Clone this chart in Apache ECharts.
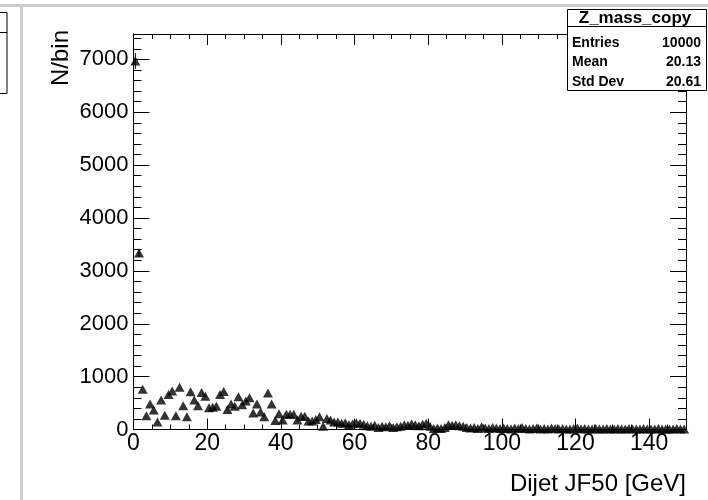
<!DOCTYPE html>
<html>
<head>
<meta charset="utf-8">
<script src="https://cdn.jsdelivr.net/npm/echarts@6/dist/echarts.min.js"></script>
<style>
html,body{margin:0;padding:0;background:#fff;}
#chart{width:708px;height:500px;}
</style>
</head>
<body>
<div id="chart"></div>
<script>
// ---- data ----
const binLow = 0, binWidth = 1;
const counts = [
 6970, 3340, 760, 260, 480, 370, 140, 560, 270, 660,
 730, 260, 800, 450, 240, 715, 560, 450, 700, 630,
 410, 420, 440, 660, 720, 380, 480, 440, 620, 470,
 540, 600, 310, 480, 330, 240, 690, 480, 170, 300,
 180, 290, 290, 290, 180, 250, 250, 160, 160, 190,
 240, 60, 210, 180, 140, 140, 120, 130, 90, 110,
 130, 120, 100, 70, 60, 80, 40, 60, 50, 70,
 40, 50, 60, 90, 80, 110, 90, 70, 100, 120,
 60, 20, 30, 20, 40, 90, 80, 90, 70, 60,
 40, 30, 40, 20, 50, 30, 20, 40, 30, 20,
 30, 20, 10, 30, 20, 40, 20, 10, 20, 30,
 10, 20, 10, 30, 20, 10, 20, 10, 10, 20,
 30, 10, 20, 10, 10, 20, 10, 10, 20, 10,
 10, 20, 10, 10, 20, 10, 10, 10, 20, 10,
 10, 10, 20, 10, 10, 10, 10, 20, 10, 10
];
const errors = [150, 75];
const xTicks = [0, 20, 40, 60, 80, 100, 120, 140];
const yTicks = [0, 1000, 2000, 3000, 4000, 5000, 6000, 7000];
const xRange = [0, 150], yRange = [0, 7480];
const xTitle = 'Dijet JF50 [GeV]';
const yTitle = 'N/bin';
const statsName = 'Z_mass_copy';
const statsRows = [['Entries', '10000'], ['Mean', '20.13'], ['Std Dev', '20.61']];

// ---- chart ----
const FONT = 'Liberation Sans, Arial, sans-serif';
const points = counts.map((v, i) => [binLow + (i + 0.5) * binWidth, v]);
const errPts = errors.map((e, i) => [binLow + (i + 0.5) * binWidth, counts[i], e]);

function axisX(pos, interval, len, labels) {
  return {
    type: 'value', position: pos, min: xRange[0], max: xRange[1], interval: interval,
    axisLine: { show: true, onZero: false, lineStyle: { color: '#000', width: 1 } },
    axisTick: { show: true, inside: true, length: len, lineStyle: { color: '#000', width: 1 } },
    axisLabel: labels ? { show: true, color: '#000', fontSize: 23, fontFamily: FONT, margin: 3, showMaxLabel: false,
      formatter: v => xTicks.indexOf(v) >= 0 ? String(v) : '' } : { show: false },
    splitLine: { show: false }
  };
}
function axisY(pos, interval, len, labels) {
  return {
    type: 'value', position: pos, min: yRange[0], max: yRange[1], interval: interval,
    axisLine: { show: true, onZero: false, lineStyle: { color: '#000', width: 1 } },
    axisTick: { show: true, inside: true, length: len, lineStyle: { color: '#000', width: 1 } },
    axisLabel: labels ? { show: true, color: '#000', fontSize: 22, fontFamily: FONT, margin: 5, showMaxLabel: false,
      formatter: v => yTicks.indexOf(v) >= 0 ? String(v) : '' } : { show: false },
    splitLine: { show: false }
  };
}

const graphics = [
  { type: 'rect', shape: { x: 0, y: 4, width: 708, height: 3 }, style: { fill: '#cccccc' }, silent: true },
  { type: 'rect', shape: { x: 20, y: 4, width: 3, height: 496 }, style: { fill: '#cccccc' }, silent: true },
  { type: 'rect', shape: { x: -10, y: 12.5, width: 17, height: 81 }, style: { fill: '#fff', stroke: '#000', lineWidth: 1 }, silent: true },
  { type: 'line', shape: { x1: -10, y1: 32.5, x2: 7, y2: 32.5 }, style: { stroke: '#000', lineWidth: 1 }, silent: true },
  { type: 'text', x: 61, y: 30, rotation: Math.PI / 2,
    style: { text: yTitle, font: '24px ' + FONT, fill: '#000', align: 'right', verticalAlign: 'middle' }, silent: true },
  { type: 'text', x: 686, y: 484,
    style: { text: xTitle, font: '24px ' + FONT, fill: '#000', align: 'right', verticalAlign: 'middle' }, silent: true },
  { type: 'rect', z: 100, shape: { x: 567.5, y: 9.5, width: 139, height: 81 }, style: { fill: '#fff', stroke: '#000', lineWidth: 1 }, silent: true },
  { type: 'line', z: 100, shape: { x1: 567.5, y1: 26.5, x2: 706.5, y2: 26.5 }, style: { stroke: '#000', lineWidth: 1 }, silent: true },
  { type: 'text', z: 101, x: 635, y: 18, style: { text: statsName, font: 'bold 17px ' + FONT, fill: '#000', align: 'center', verticalAlign: 'middle' }, silent: true }
];
statsRows.forEach((r, i) => {
  const y = 43 + i * 19.5;
  graphics.push({ type: 'text', z: 101, x: 572, y: y, style: { text: r[0], font: 'bold 14px ' + FONT, fill: '#000', align: 'left', verticalAlign: 'middle' }, silent: true });
  graphics.push({ type: 'text', z: 101, x: 701, y: y, style: { text: r[1], font: 'bold 14px ' + FONT, fill: '#000', align: 'right', verticalAlign: 'middle' }, silent: true });
});

const option = {
  animation: false,
  backgroundColor: '#fff',
  grid: { left: 133.5, right: 22, top: 34, bottom: 70.5, containLabel: false },
  xAxis: [
    axisX('bottom', 20, 11, true),
    axisX('bottom', 5, 5, false),
    axisX('top', 20, 11, false),
    axisX('top', 5, 5, false)
  ],
  yAxis: [
    axisY('left', 1000, 16, true),
    axisY('left', 200, 8, false),
    axisY('right', 1000, 16, false),
    axisY('right', 200, 8, false)
  ],
  series: [
    {
      type: 'custom', xAxisIndex: 0, yAxisIndex: 0, clip: true,
      data: errPts,
      renderItem: function (params, api) {
        const x = api.value(0), y = api.value(1), e = api.value(2);
        const p1 = api.coord([x, y - e]), p2 = api.coord([x, y + e]);
        return { type: 'line', shape: { x1: p1[0], y1: p1[1], x2: p2[0], y2: p2[1] }, style: { stroke: '#000', lineWidth: 1 } };
      }
    },
    {
      type: 'scatter', xAxisIndex: 0, yAxisIndex: 0, clip: true,
      symbol: 'triangle', symbolSize: [10, 9],
      itemStyle: { color: '#000' },
      data: points
    }
  ],
  graphic: graphics
};
const chart = echarts.init(document.getElementById('chart'), null, { renderer: 'canvas' });
chart.setOption(option);
</script>
</body>
</html>
